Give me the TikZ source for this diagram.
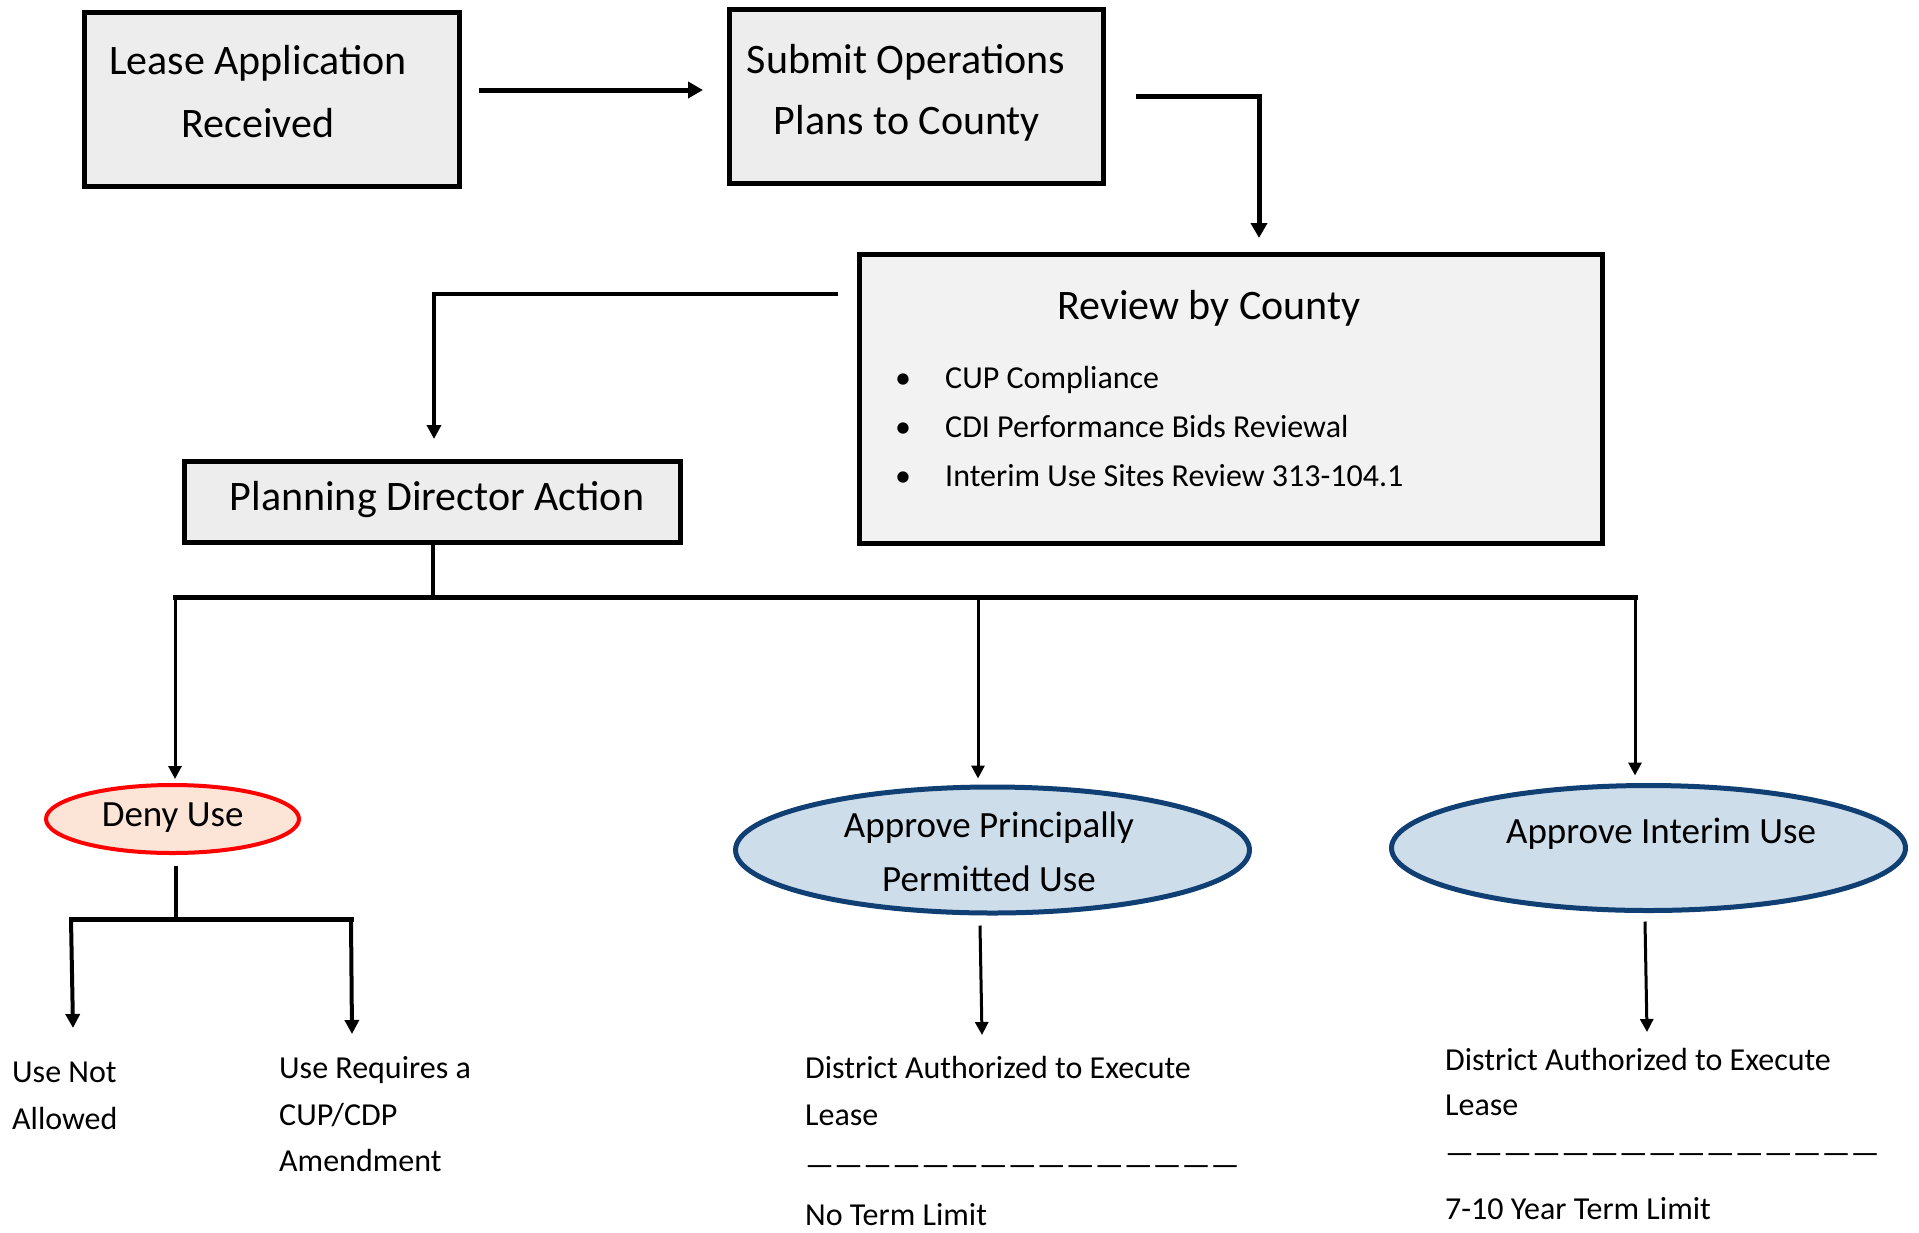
\documentclass[tikz,border=0pt]{standalone}
\usepackage{fontspec}
\setmainfont{Carlito}
\usetikzlibrary{arrows.meta,calc,shapes.geometric}
\definecolor{boxgray}{HTML}{EDEDED}
\definecolor{reviewgray}{HTML}{F2F2F2}
\definecolor{denyfill}{HTML}{FCE4D6}
\definecolor{approvefill}{HTML}{CDDDEA}
\definecolor{approveline}{HTML}{0F3F73}
\tikzset{
  procbox/.style={draw=black, line width=5pt, fill=boxgray, inner sep=0pt},
  denyshape/.style={ellipse, draw=red, line width=4pt, fill=denyfill, inner sep=0pt},
  approveshape/.style={ellipse, draw=approveline, line width=5pt, fill=approvefill, inner sep=0pt},
  bigtext/.style={font=\fontsize{42}{50}\selectfont, inner sep=0pt, anchor=base},
  midtext/.style={font=\fontsize{37}{44}\selectfont, inner sep=0pt, anchor=base},
  smalltext/.style={font=\fontsize{32}{40}\selectfont, inner sep=0pt, anchor=base west},
  bullet/.style={font=\fontsize{32}{40}\selectfont, inner sep=0pt, anchor=base},
  thickarrow/.style={line width=5pt, -{Triangle[length=15pt,width=16pt]}},
  midarrow/.style={line width=4pt, -{Triangle[length=14pt,width=14pt]}},
  thinarrow/.style={line width=3pt, -{Triangle[length=13pt,width=13pt]}},
  bus/.style={line width=5pt, line cap=rect},
  stem/.style={line width=4pt},
}
\begin{document}
\begin{tikzpicture}[x=1pt,y=-1pt]
\fill[white] (0,0) rectangle (1919,1232);
\path[use as bounding box] (0,0) rectangle (1919,1232);

% process boxes
\node[procbox, minimum width=375pt, minimum height=174pt] (lease) at (271.5,99) {};
\node[procbox, minimum width=374pt, minimum height=174pt] (submit) at (916.5,96.5) {};
\node[procbox, fill=reviewgray, minimum width=743pt, minimum height=289pt] (review) at (1231,399) {};
\node[procbox, minimum width=496pt, minimum height=81pt] (planning) at (432.5,502) {};

% box texts
\node[bigtext] (leaseA) at (258,74.5) {Lease Application};
\node[bigtext] (leaseB) at (258,137.5) {Received};
\node[bigtext] (submitA) at (906,73.5) {Submit Operations};
\node[bigtext] (submitB) at (907,134.5) {Plans to County};
\node[bigtext] (reviewT) at (1209,319.5) {Review by County};
\node[bullet] (b1) at (903,388.5) {•};
\node[bullet] (b2) at (903,437.5) {•};
\node[bullet] (b3) at (903,486.5) {•};
\node[smalltext] (r1) at (945,388.5) {CUP Compliance};
\node[smalltext] (r2) at (945,437.5) {CDI Performance Bids Reviewal};
\node[smalltext] (r3) at (945,486.5) {Interim Use Sites Review 313-104.1};
\node[bigtext] (planningT) at (437,510.5) {Planning Director Action};

% decision ellipses
\node[denyshape, minimum width=253pt, minimum height=68pt] (deny) at (172.5,819) {};
\node[approveshape, minimum width=514pt, minimum height=126pt] (ppu) at (992.5,850) {};
\node[approveshape, minimum width=514pt, minimum height=125pt] (iu) at (1648.5,848) {};
\node[midtext] (denyT) at (172.6,826) {Deny Use};
\node[midtext] (ppuA) at (989,837) {Approve Principally};
\node[midtext] (ppuB) at (989,891) {Permitted Use};
\node[midtext] (iuT) at (1661,843) {Approve Interim Use};

% outcome texts
\node[smalltext] (notA) at (12,1082.5) {Use Not};
\node[smalltext] (notB) at (12,1129.5) {Allowed};
\node[smalltext] (reqA) at (279,1078.5) {Use Requires a};
\node[smalltext] (reqB) at (279,1125.5) {CUP/CDP};
\node[smalltext] (reqC) at (279,1171.5) {Amendment};
\node[smalltext] (pA) at (805,1078.5) {District Authorized to Execute};
\node[smalltext] (pB) at (805,1125.5) {Lease};
\node[smalltext] (pC) at (805,1175) {———————————————};
\node[smalltext] (pD) at (805,1225) {No Term Limit};
\node[smalltext] (iA) at (1445,1070.5) {District Authorized to Execute};
\node[smalltext] (iB) at (1445,1115.5) {Lease};
\node[smalltext] (iC) at (1445,1163) {———————————————};
\node[smalltext] (iD) at (1445,1219.5) {7-10 Year Term Limit};

% top flow
\draw[thickarrow] ($(lease.east)+(17,-9)$) -- ($(submit.west)+(-24,-6.5)$);
\draw[thickarrow] ($(submit.east)+(30,-0.5)$) -| ($(review.north)+(28,-14)$);
\draw[midarrow] ($(review.west)+(-19.5,-105)$) -| ($(planning.north)+(1.5,-20)$);

% planning director split
\coordinate (split) at ($(planning.south)+(0,52.5)$);
\coordinate (denyTip) at ($(deny.north)+(2.5,-4)$);
\coordinate (ppuTip) at ($(ppu.north)+(-14.5,-6)$);
\coordinate (iuTip) at ($(iu.north)+(-13.5,-7.5)$);
\draw[stem] (planning.south) -- (split);
\draw[bus] (denyTip |- split) -- (iuTip |- split);
\draw[thinarrow] (denyTip |- split) -- (denyTip);
\draw[thinarrow] (ppuTip |- split) -- (ppuTip);
\draw[thinarrow] (iuTip |- split) -- (iuTip);

% deny branches
\coordinate (denyFork) at ($(deny.south)+(3.5,66)$);
\coordinate (notTip) at (73,1028);
\coordinate (reqTip) at (352,1034);
\draw[stem] ($(deny.south)+(3.5,11)$) -- (denyFork);
\draw[bus] (71,919) -- (351,919);
\draw[midarrow] (71,919) -- (notTip);
\draw[midarrow] (351,919) -- (reqTip);

% approval outcomes
\draw[thinarrow] ($(ppu.south)+(-12.5,10)$) -- (982,1035);
\draw[thinarrow] ($(iu.south)+(-3.5,8.5)$) -- (1647,1032);
\end{tikzpicture}
\end{document}
